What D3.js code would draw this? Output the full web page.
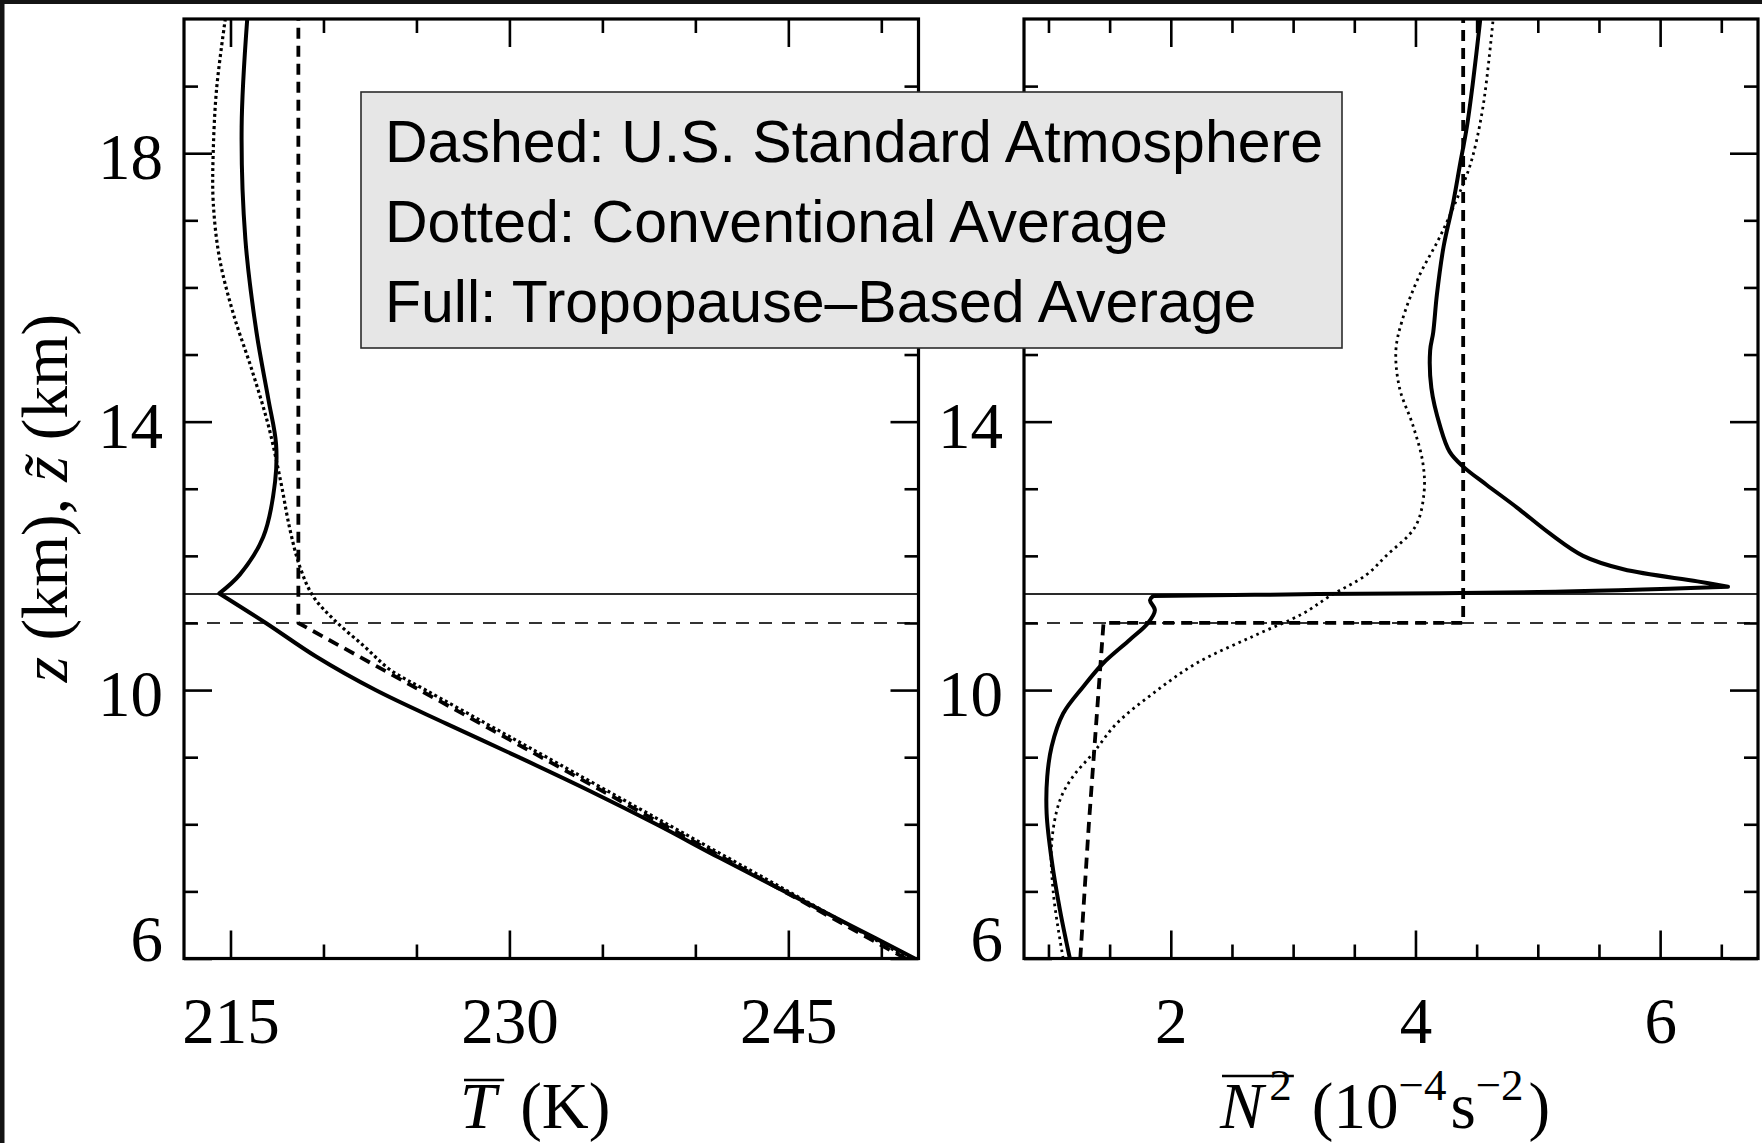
<!DOCTYPE html>
<html>
<head>
<meta charset="utf-8">
<script src="https://cdn.jsdelivr.net/npm/d3@7"></script>
<style>
  body { margin: 0; background: #fff; }
  svg { display: block; }
</style>
</head>
<body>
<div id="container"></div>
<script>
/* CONSTANTS AND GLOBALS */
const width = 1762,
  height = 1143,
  margin = {top: 19, bottom: 958.5};
const leftPanel = {x0: 184, x1: 918.5},
  rightPanel = {x0: 1024, x1: 1758};

/* DATA */
// left panel: mean temperature (K) against height z (km)
const stdTZ = [6, 11, 20];
const stdT = [251.3, 218.65, 218.65];

const convTZ = [6.0, 7.0, 8.0, 9.0, 9.5, 10.0, 10.3, 10.65, 11.04, 11.39, 11.83, 12.39, 13.11, 13.94, 14.78, 15.61, 16.45, 17.28, 18.0, 18.95, 20.0];
const convT = [251.5, 245.0, 238.5, 232.0, 228.75, 225.5, 223.6, 222.2, 220.6, 219.46, 218.74, 218.2, 217.7, 217.04, 216.14, 215.15, 214.4, 214.07, 214.07, 214.25, 214.72];

const tropTZ = [6.0, 6.5, 7.0, 7.5, 8.0, 8.5, 9.0, 9.5, 10.0, 10.5, 11.0, 11.44, 11.72, 12.28, 13.11, 13.67, 14.33, 15.33, 16.72, 18.39, 20.0];
const tropT = [251.8, 248.3, 244.8, 241.3, 237.9, 234.3, 230.5, 226.6, 222.8, 219.6, 216.9, 214.4, 215.5, 216.76, 217.4, 217.45, 217.04, 216.4, 215.8, 215.6, 215.9];

// right panel: N^2 (10^-4 s^-2) against height
const stdNZ = [6, 7, 8, 9, 10, 11, 11, 20];
const stdN = [1.26, 1.295, 1.33, 1.37, 1.41, 1.45, 4.39, 4.39];

const convNZ = [6.0, 6.97, 7.72, 8.36, 8.71, 9.06, 9.5, 9.95, 10.4, 10.8, 11.14, 11.4, 11.72, 12.0, 12.44, 12.94, 13.39, 13.94, 14.5, 15.06, 15.5, 16.17, 16.72, 17.28, 17.84, 18.67, 20.0];
const convN = [1.12, 1.04, 1.026, 1.094, 1.2, 1.365, 1.556, 1.855, 2.21, 2.67, 3.08, 3.3, 3.6, 3.76, 4.0, 4.07, 4.06, 3.98, 3.87, 3.84, 3.89, 4.03, 4.19, 4.33, 4.45, 4.55, 4.635];

const tropNZ = [6.0, 6.72, 7.47, 8.16, 8.71, 9.16, 9.65, 10.05, 10.40, 10.75, 11.0, 11.19, 11.34, 11.40, 11.43, 11.46, 11.54, 11.62, 11.8, 12.0, 12.33, 12.72, 13.06, 13.33, 13.55, 13.94, 14.5, 15.06, 15.33, 15.89, 16.61, 17.28, 17.84, 18.39, 19.06, 20.0];
const tropN = [1.175, 1.094, 1.026, 0.985, 0.99, 1.026, 1.12, 1.284, 1.447, 1.665, 1.814, 1.87, 1.83, 1.855, 3.2, 5.0, 6.555, 6.305, 5.7, 5.37, 5.1, 4.83, 4.58, 4.39, 4.28, 4.2, 4.13, 4.12, 4.145, 4.175, 4.23, 4.31, 4.365, 4.42, 4.47, 4.53];

// tropopause heights (km)
const tropopauseMean = 11.43;
const tropopauseStd = 11.0;

// ticks
const zTicksMajor = [6, 10, 14, 18];
const zTicksMinor = [7, 8, 9, 11, 12, 13, 15, 16, 17, 19];
const zLabelsLeft = [6, 10, 14, 18];
const zLabelsRight = [6, 10, 14];   // 18 sits under the legend box
const tTicksMajor = [215, 230, 245];
const tTicksMinor = [220, 225, 235, 240, 250];
const nTicksMajor = [2, 4, 6];
const nTicksMinor = [1, 1.5, 2.5, 3, 3.5, 4.5, 5, 5.5, 6.5];

const legendLines = [
  "Dashed: U.S. Standard Atmosphere",
  "Dotted: Conventional Average",
  "Full: Tropopause\u2013Based Average"
];

/* SCALES */
const yScale = d3.scaleLinear().domain([6, 20]).range([margin.bottom, margin.top]);
const xT = d3.scaleLinear().domain([212.5, 252]).range([leftPanel.x0, leftPanel.x1]);
const xN = d3.scaleLinear().domain([0.8, 6.8]).range([rightPanel.x0, rightPanel.x1]);

/* SVG */
const svg = d3.select("#container")
  .append("svg")
  .attr("width", width)
  .attr("height", height);

svg.append("rect").attr("width", width).attr("height", height).attr("fill", "#fff");
// dark edge of the scanned figure
svg.append("rect").attr("width", width).attr("height", 4).attr("fill", "#141414");
svg.append("rect").attr("width", 4.5).attr("height", height).attr("fill", "#141414");

const serif = "'Liberation Serif', 'Times New Roman', serif";

// line styles
const styles = {
  full: {width: 4, dash: null, curve: d3.curveCatmullRom.alpha(0.5)},
  dashed: {width: 3.8, dash: "11,7", curve: d3.curveLinear},
  dotted: {width: 3.2, dash: "3,3", curve: d3.curveCatmullRom.alpha(0.5)},
  dottedThin: {width: 2.8, dash: "2.6,4", curve: d3.curveCatmullRom.alpha(0.5)}
};

// draws one profile; breaks are indices where the curve has a corner
function drawCurve(g, x, zs, vs, breaks, style) {
  const pts = zs.map((z, i) => [x(vs[i]), yScale(z)]);
  const cuts = [0, ...breaks, pts.length - 1];
  const lineGen = d3.line().curve(style.curve);
  let d = "";
  for (let k = 0; k < cuts.length - 1; k++) {
    const seg = lineGen(pts.slice(cuts[k], cuts[k + 1] + 1));
    d += k === 0 ? seg : "L" + seg.slice(1);
  }
  g.append("path")
    .attr("d", d)
    .attr("fill", "none")
    .attr("stroke", "#000")
    .attr("stroke-width", style.width)
    .attr("stroke-dasharray", style.dash)
    .attr("stroke-linejoin", "round");
}

function drawPanel(id, panel, x, tMajor, tMinor, zLabels, series) {
  const g = svg.append("g");

  g.append("clipPath").attr("id", id)
    .append("rect")
    .attr("x", panel.x0).attr("y", margin.top)
    .attr("width", panel.x1 - panel.x0).attr("height", margin.bottom - margin.top);

  const plot = g.append("g").attr("clip-path", `url(#${id})`);

  // tropopause reference lines
  plot.append("line")
    .attr("x1", panel.x0).attr("x2", panel.x1)
    .attr("y1", yScale(tropopauseMean)).attr("y2", yScale(tropopauseMean))
    .attr("stroke", "#2a2a2a").attr("stroke-width", 2);
  plot.append("line")
    .attr("x1", panel.x0).attr("x2", panel.x1)
    .attr("y1", yScale(tropopauseStd)).attr("y2", yScale(tropopauseStd))
    .attr("stroke", "#333").attr("stroke-width", 2)
    .attr("stroke-dasharray", "13,10");

  series.forEach(s => drawCurve(plot, x, s.z, s.v, s.breaks, s.style));

  // AXES (ticks pointing inward on all four sides)
  const addAxis = (axis, tx, ty) => {
    const a = g.append("g")
      .attr("transform", `translate(${tx},${ty})`)
      .call(axis);
    a.select(".domain").remove();
    a.selectAll("line").attr("stroke", "#000").attr("stroke-width", 2.6);
    return a;
  };

  const bottomAxis = addAxis(d3.axisBottom(x).tickValues(tMajor).tickSize(-28).tickFormat(d3.format("d")), 0, margin.bottom);
  bottomAxis.selectAll("text")
    .attr("y", 84.5).attr("dy", null)
    .attr("font-family", serif).attr("font-size", 65).attr("fill", "#000");
  addAxis(d3.axisBottom(x).tickValues(tMinor).tickSize(-14).tickFormat(""), 0, margin.bottom);
  addAxis(d3.axisTop(x).tickValues(tMajor).tickSize(-28).tickFormat(""), 0, margin.top);
  addAxis(d3.axisTop(x).tickValues(tMinor).tickSize(-14).tickFormat(""), 0, margin.top);

  const leftAxis = addAxis(d3.axisLeft(yScale).tickValues(zTicksMajor).tickSize(-28)
    .tickFormat(d => zLabels.includes(d) ? d3.format("d")(d) : ""), panel.x0, 0);
  leftAxis.selectAll("text")
    .attr("x", -21)
    .attr("dy", d => d === 6 ? null : "0.35em")
    .attr("y", d => d === 6 ? 1.5 : 3)
    .attr("font-family", serif).attr("font-size", 65).attr("fill", "#000");
  addAxis(d3.axisLeft(yScale).tickValues(zTicksMinor).tickSize(-14).tickFormat(""), panel.x0, 0);
  addAxis(d3.axisRight(yScale).tickValues(zTicksMajor).tickSize(-28).tickFormat(""), panel.x1, 0);
  addAxis(d3.axisRight(yScale).tickValues(zTicksMinor).tickSize(-14).tickFormat(""), panel.x1, 0);

  // frame
  g.append("rect")
    .attr("x", panel.x0).attr("y", margin.top)
    .attr("width", panel.x1 - panel.x0).attr("height", margin.bottom - margin.top)
    .attr("fill", "none").attr("stroke", "#000").attr("stroke-width", 3.2);
}

drawPanel("clipT", leftPanel, xT, tTicksMajor, tTicksMinor, zLabelsLeft, [
  {z: stdTZ, v: stdT, breaks: [], style: styles.dashed},
  {z: convTZ, v: convT, breaks: [], style: styles.dotted},
  {z: tropTZ, v: tropT, breaks: [11], style: styles.full}
]);

drawPanel("clipN", rightPanel, xN, nTicksMajor, nTicksMinor, zLabelsRight, [
  {z: stdNZ, v: stdN, breaks: [], style: styles.dashed},
  {z: convNZ, v: convN, breaks: [], style: styles.dottedThin},
  {z: tropNZ, v: tropN, breaks: [13, 16], style: styles.full}
]);

/* AXIS TITLES */
const overline = (textSel, i0, i1, dy, pad) => {
  const n = textSel.node();
  const xa = n.getStartPositionOfChar(i0).x;
  const xb = n.getEndPositionOfChar(i1).x;
  const yb = +textSel.attr("y") + dy;
  svg.append("line")
    .attr("x1", xa + pad[0]).attr("x2", xb + pad[1])
    .attr("y1", yb).attr("y2", yb)
    .attr("stroke", "#000").attr("stroke-width", 2.6);
};

const tLabel = svg.append("text")
  .attr("x", 460).attr("y", 1128)
  .attr("font-family", serif).attr("font-size", 65).attr("fill", "#000");
tLabel.append("tspan").attr("font-style", "italic").text("T");
tLabel.append("tspan").attr("dx", 24).text("(K)");
overline(tLabel, 0, 0, -48, [4, 8]);

const nLabel = svg.append("text")
  .attr("x", 1220).attr("y", 1128)
  .attr("font-family", serif).attr("font-size", 65).attr("fill", "#000");
nLabel.append("tspan").attr("font-style", "italic").text("N");
nLabel.append("tspan").attr("font-size", 45).attr("dy", -28).attr("dx", 6).text("2");
nLabel.append("tspan").attr("dy", 28).attr("dx", 20).text("(10");
nLabel.append("tspan").attr("font-size", 45).attr("dy", -28).text("\u22124");
nLabel.append("tspan").attr("dy", 28).attr("dx", 4).text("s");
nLabel.append("tspan").attr("font-size", 45).attr("dy", -28).text("\u22122");
nLabel.append("tspan").attr("dy", 28).attr("dx", 5).text(")");
overline(nLabel, 0, 1, -52, [2, 2]);

const zLabel = svg.append("text")
  .attr("transform", "translate(67,498) rotate(-90)")
  .attr("text-anchor", "middle")
  .attr("font-family", serif).attr("font-size", 65).attr("fill", "#000");
zLabel.append("tspan").attr("font-style", "italic").text("z");
zLabel.append("tspan").text(" (km), ");
zLabel.append("tspan").attr("font-style", "italic").text("z\u0303");
zLabel.append("tspan").text(" (km)");

/* LEGEND */
const legend = svg.append("g");
legend.append("rect")
  .attr("x", 361).attr("y", 92)
  .attr("width", 981).attr("height", 256)
  .attr("fill", "#e6e6e6").attr("stroke", "#2b2b2b").attr("stroke-width", 1.6);
legend.selectAll("text")
  .data(legendLines)
  .join("text")
  .attr("x", 385)
  .attr("y", (d, i) => 162 + i * 80)
  .attr("font-family", "'Liberation Sans', Arial, sans-serif")
  .attr("font-size", 59)
  .attr("fill", "#000")
  .text(d => d);
</script>
</body>
</html>
